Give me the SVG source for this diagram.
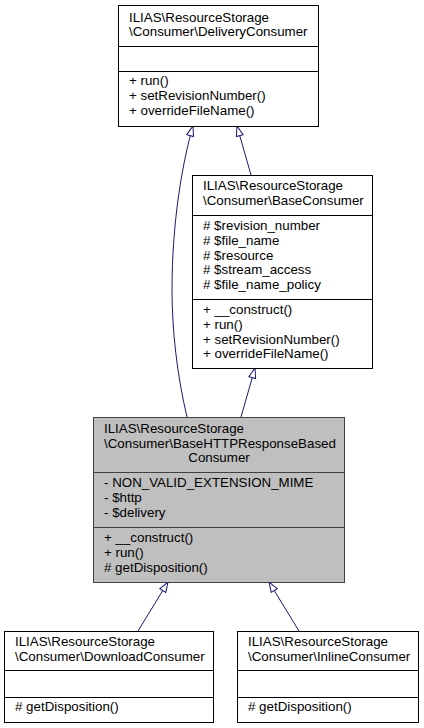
<svg xmlns="http://www.w3.org/2000/svg" width="424" height="728" viewBox="0 0 424 728">
<style>
.box{fill:#fff;stroke:#000;stroke-width:1}
.cur{fill:#bfbfbf;stroke:#404040;stroke-width:1}
.div{stroke:#000;stroke-width:1}
.divc{stroke:#404040;stroke-width:1}
text{font-family:"Liberation Sans",Arial,sans-serif;font-size:13.33px;fill:#000}
.edge{fill:none;stroke:#191970;stroke-width:1}
</style>
<defs>
<marker id="tri" markerUnits="userSpaceOnUse" markerWidth="14" markerHeight="10" refX="11" refY="4.5" orient="auto">
<path d="M1,1 L11,4.5 L1,8 Z" fill="#fff" stroke="#191970" stroke-width="1"/>
</marker>
</defs>
<g id="edges">
<path class="edge" d="M251,175 L237,126" marker-end="url(#tri)"/>
<path class="edge" d="M187,417 C177,375 172,330 172,290 C172,220 183,160 193,126" marker-end="url(#tri)"/>
<path class="edge" d="M241,417 L255,368" marker-end="url(#tri)"/>
<path class="edge" d="M138,631 L168,582" marker-end="url(#tri)"/>
<path class="edge" d="M299,631 L269,582" marker-end="url(#tri)"/>
</g>
<g id="DeliveryConsumer">
<rect class="box" x="118.5" y="5.5" width="200" height="121"/>
<line class="div" x1="118.5" y1="46.5" x2="318.5" y2="46.5"/>
<line class="div" x1="118.5" y1="71.5" x2="318.5" y2="71.5"/>
<text x="129" y="22">ILIAS\ResourceStorage</text>
<text x="129" y="36">\Consumer\DeliveryConsumer</text>
<text x="129" y="85">+ run()</text>
<text x="129" y="100">+ setRevisionNumber()</text>
<text x="129" y="115">+ overrideFileName()</text>
</g>
<g id="BaseConsumer">
<rect class="box" x="192.5" y="175.5" width="180" height="193"/>
<line class="div" x1="192.5" y1="215.5" x2="372.5" y2="215.5"/>
<line class="div" x1="192.5" y1="299.5" x2="372.5" y2="299.5"/>
<text x="203" y="190">ILIAS\ResourceStorage</text>
<text x="203" y="205">\Consumer\BaseConsumer</text>
<text x="203" y="230"># $revision_number</text>
<text x="203" y="245"># $file_name</text>
<text x="203" y="260"># $resource</text>
<text x="203" y="274"># $stream_access</text>
<text x="203" y="289"># $file_name_policy</text>
<text x="203" y="314">+ __construct()</text>
<text x="203" y="329">+ run()</text>
<text x="203" y="344">+ setRevisionNumber()</text>
<text x="203" y="358">+ overrideFileName()</text>
</g>
<g id="BaseHTTPResponseBasedConsumer">
<rect class="cur" x="93.5" y="417.5" width="251" height="165"/>
<line class="divc" x1="93.5" y1="472.5" x2="344.5" y2="472.5"/>
<line class="divc" x1="93.5" y1="527.5" x2="344.5" y2="527.5"/>
<text x="104" y="433">ILIAS\ResourceStorage</text>
<text x="104" y="448">\Consumer\BaseHTTPResponseBased</text>
<text x="219" y="462" text-anchor="middle">Consumer</text>
<text x="104" y="487">- NON_VALID_EXTENSION_MIME</text>
<text x="104" y="502">- $http</text>
<text x="104" y="517">- $delivery</text>
<text x="104" y="542">+ __construct()</text>
<text x="104" y="557">+ run()</text>
<text x="104" y="572"># getDisposition()</text>
</g>
<g id="DownloadConsumer">
<rect class="box" x="4.5" y="631.5" width="209" height="91"/>
<line class="div" x1="4.5" y1="670.5" x2="213.5" y2="670.5"/>
<line class="div" x1="4.5" y1="697.5" x2="213.5" y2="697.5"/>
<text x="15" y="646">ILIAS\ResourceStorage</text>
<text x="15" y="661">\Consumer\DownloadConsumer</text>
<text x="15" y="711"># getDisposition()</text>
</g>
<g id="InlineConsumer">
<rect class="box" x="237.5" y="631.5" width="181" height="91"/>
<line class="div" x1="237.5" y1="670.5" x2="418.5" y2="670.5"/>
<line class="div" x1="237.5" y1="697.5" x2="418.5" y2="697.5"/>
<text x="248" y="646">ILIAS\ResourceStorage</text>
<text x="248" y="661">\Consumer\InlineConsumer</text>
<text x="248" y="711"># getDisposition()</text>
</g>
</svg>
